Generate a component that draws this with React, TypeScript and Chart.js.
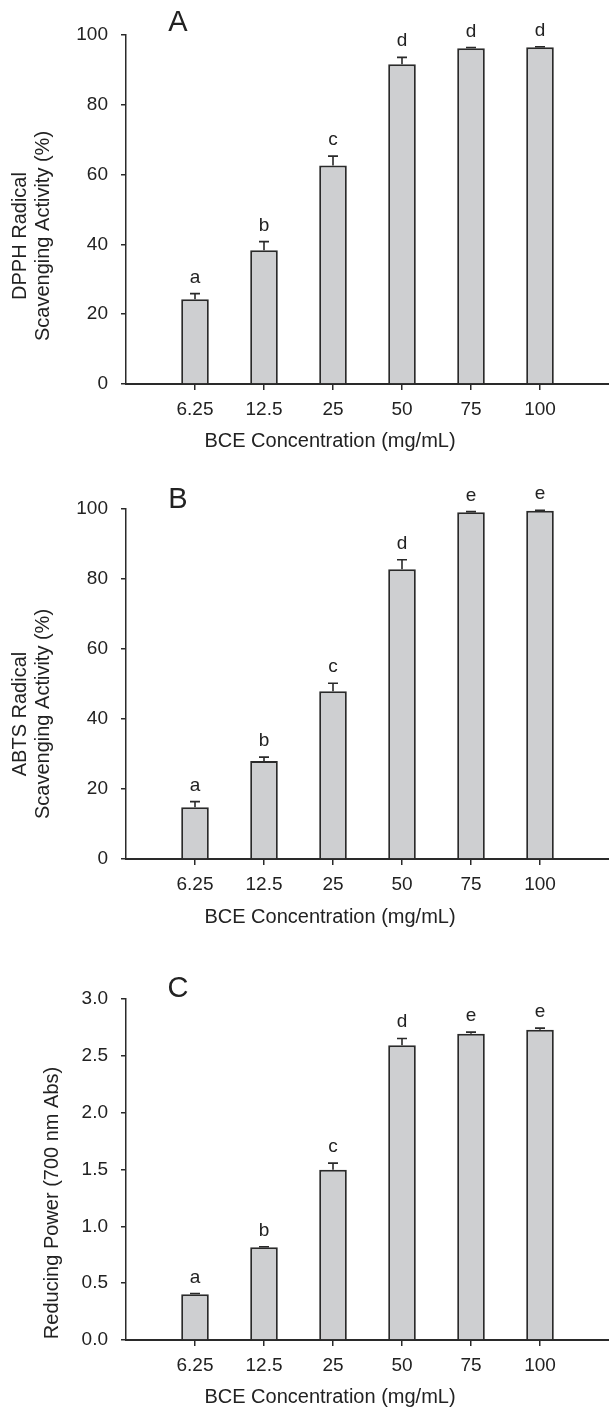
import React, { useEffect, useRef } from 'react';
import { Chart, registerables } from 'chart.js';

Chart.register(...registerables);

const FONT = '"Liberation Sans", Arial, Helvetica, sans-serif';

// ---- data ----
const concentrations = ['6.25', '12.5', '25', '50', '75', '100'];

const dpphValues = [24.3, 38.3, 62.6, 91.6, 96.2, 96.5];
const dpphErrors = [1.6, 2.5, 2.7, 2.0, 0.2, 0.15];
const dpphLetters = ['a', 'b', 'c', 'd', 'd', 'd'];

const abtsValues = [14.8, 28.0, 47.9, 82.8, 99.1, 99.5];
const abtsErrors = [1.6, 1.1, 2.3, 2.7, 0.15, 0.1];
const abtsLetters = ['a', 'b', 'c', 'd', 'e', 'e'];

const reducingValues = [0.403, 0.815, 1.497, 2.594, 2.694, 2.729];
const reducingErrors = [0.006, 0.006, 0.059, 0.059, 0.015, 0.015];
const reducingLetters = ['a', 'b', 'c', 'd', 'e', 'e'];

const xTitle = 'BCE Concentration (mg/mL)';

type PanelCfg = {
  id: string;
  top: number;
  height: number;
  areaTop: number;
  xHeight: number;
  yMax: number;
  yStep: number;
  decimals: number;
  values: number[];
  errors: number[];
  letters: string[];
  panelLetter: string;
  panelLetterY: number;
  yTitle: string[];
  yTitleX: number[];
  yTitleY: number;
  xTitleY: number;
};

const panels: PanelCfg[] = [
  {
    id: 'A', top: 0, height: 470, areaTop: 35, xHeight: 86,
    yMax: 100, yStep: 20, decimals: 0,
    values: dpphValues, errors: dpphErrors, letters: dpphLetters,
    panelLetter: 'A', panelLetterY: 23,
    yTitle: ['DPPH Radical', 'Scavenging Activity (%)'], yTitleX: [20, 43], yTitleY: 236,
    xTitleY: 441,
  },
  {
    id: 'B', top: 470, height: 475, areaTop: 39, xHeight: 86,
    yMax: 100, yStep: 20, decimals: 0,
    values: abtsValues, errors: abtsErrors, letters: abtsLetters,
    panelLetter: 'B', panelLetterY: 30,
    yTitle: ['ABTS Radical', 'Scavenging Activity (%)'], yTitleX: [20, 43], yTitleY: 244,
    xTitleY: 447,
  },
  {
    id: 'C', top: 945, height: 464, areaTop: 54, xHeight: 69,
    yMax: 3, yStep: 0.5, decimals: 1,
    values: reducingValues, errors: reducingErrors, letters: reducingLetters,
    panelLetter: 'C', panelLetterY: 44,
    yTitle: ['Reducing Power (700 nm Abs)'], yTitleX: [52], yTitleY: 258,
    xTitleY: 452,
  },
];

function Panel({ cfg }: { cfg: PanelCfg }) {
  const ref = useRef<HTMLCanvasElement>(null);

  useEffect(() => {
    if (!ref.current) return;
    const labels = ['', ...concentrations, ''];
    const data: (number | null)[] = [null, ...cfg.values, null];

    const overlay = {
      id: 'overlay' + cfg.id,
      afterDatasetsDraw(chart: any) {
        const ctx = chart.ctx as CanvasRenderingContext2D;
        const yScale = chart.scales.y;
        const meta = chart.getDatasetMeta(0);
        ctx.save();
        ctx.strokeStyle = '#2a2a2a';
        ctx.lineWidth = 1.6;
        ctx.fillStyle = '#222';
        ctx.font = `19px ${FONT}`;
        ctx.textAlign = 'center';
        ctx.textBaseline = 'alphabetic';
        cfg.values.forEach((v, i) => {
          const el = meta.data[i + 1];
          const x = el.x;
          const y0 = yScale.getPixelForValue(v);
          const y1 = yScale.getPixelForValue(v + cfg.errors[i]);
          ctx.beginPath();
          ctx.moveTo(x, y0);
          ctx.lineTo(x, y1);
          ctx.moveTo(x - 5, y1);
          ctx.lineTo(x + 5, y1);
          ctx.stroke();
          ctx.fillText(cfg.letters[i], x, y1 - 11);
        });
        ctx.restore();
      },
      afterDraw(chart: any) {
        const ctx = chart.ctx as CanvasRenderingContext2D;
        ctx.save();
        ctx.fillStyle = '#222';
        ctx.textAlign = 'center';
        ctx.textBaseline = 'middle';
        ctx.font = `29px ${FONT}`;
        ctx.fillText(cfg.panelLetter, 178, cfg.panelLetterY);
        ctx.font = `20px ${FONT}`;
        ctx.fillText(xTitle, 330, cfg.xTitleY);
        cfg.yTitle.forEach((line, i) => {
          ctx.save();
          ctx.translate(cfg.yTitleX[i], cfg.yTitleY);
          ctx.rotate(-Math.PI / 2);
          ctx.fillText(line, 0, 0);
          ctx.restore();
        });
        ctx.restore();
      },
    };

    const chart = new Chart(ref.current, {
      type: 'bar',
      data: {
        labels,
        datasets: [
          {
            data,
            backgroundColor: '#cecfd1',
            borderColor: '#2a2a2a',
            borderWidth: 2,
            categoryPercentage: 1,
            barPercentage: 0.4,
          },
        ],
      },
      options: {
        responsive: false,
        animation: false,
        devicePixelRatio: 1,
        layout: { padding: { top: cfg.areaTop, left: 0, right: 0, bottom: 0 } },
        plugins: { legend: { display: false }, tooltip: { enabled: false } },
        scales: {
          x: {
            type: 'category',
            offset: false,
            z: 1,
            grid: {
              display: true,
              offset: false,
              drawOnChartArea: false,
              drawTicks: true,
              tickLength: 6,
              color: '#2a2a2a',
              lineWidth: 1.5,
            },
            border: { display: true, color: '#2a2a2a', width: 2 },
            ticks: {
              font: { family: FONT, size: 19 },
              color: '#222',
              padding: 8,
              autoSkip: false,
              maxRotation: 0,
            },
            afterBuildTicks: (s: any) => {
              s.ticks = s.ticks.filter((t: any) => t.value >= 1 && t.value <= 6);
            },
            afterFit: (s: any) => {
              s.height = cfg.xHeight;
            },
          },
          y: {
            min: 0,
            max: cfg.yMax,
            grid: {
              display: true,
              drawOnChartArea: false,
              drawTicks: true,
              tickLength: 5,
              color: '#2a2a2a',
              lineWidth: 1.5,
            },
            border: { display: true, color: '#2a2a2a', width: 1.5 },
            ticks: {
              stepSize: cfg.yStep,
              font: { family: FONT, size: 19 },
              color: '#222',
              padding: 13,
              callback: (v: any) => Number(v).toFixed(cfg.decimals),
            },
            afterFit: (s: any) => {
              s.width = 126;
            },
          },
        },
      },
      plugins: [overlay],
    } as any);

    return () => chart.destroy();
  }, [cfg]);

  return (
    <canvas
      ref={ref}
      width={609}
      height={cfg.height}
      style={{ position: 'absolute', left: 0, top: cfg.top, width: 609, height: cfg.height, display: 'block' }}
    />
  );
}

export default function App() {
  return (
    <div style={{ position: 'absolute', left: 0, top: 0, width: 609, height: 1409, background: '#fff' }}>
      {panels.map((p) => (
        <Panel key={p.id} cfg={p} />
      ))}
    </div>
  );
}
